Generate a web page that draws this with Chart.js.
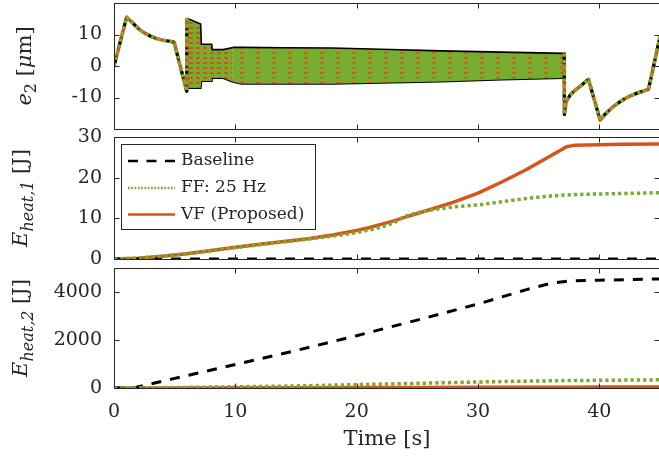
<!DOCTYPE html>
<html><head><meta charset="utf-8">
<script src="https://cdn.jsdelivr.net/npm/chart.js@4.4.1/dist/chart.umd.min.js"></script>
<style>
html,body{margin:0;padding:0;background:#fff;overflow:hidden;width:659px;height:456px;position:relative}
canvas{position:absolute;left:0;display:block}
</style></head><body>
<canvas id="c1" width="660" height="150" style="top:-9px"></canvas>
<canvas id="c2" width="660" height="146" style="top:125px"></canvas>
<canvas id="c3" width="660" height="200" style="top:256px"></canvas>
<script>
// ---- tick labels ----
const xTicks = [0, 10, 20, 30, 40];
const e2Ticks = [-10, 0, 10];
const eh1Ticks = [0, 10, 20, 30];
const eh2Ticks = [0, 2000, 4000];
const seriesNames = ['Baseline', 'FF: 25 Hz', 'VF (Proposed)'];

// ---- e2 [um] : trace shared by all three controllers outside the oscillating window ----
const e2Time  = [0, 1.04, 1.5, 2.0, 2.5, 3.0, 3.5, 4.0, 4.5, 4.95, 5.99, 6.0, 6.01,
                 37.1, 37.12, 37.25, 37.6, 38.0, 38.5, 39.1, 40.07, 40.5, 41.0, 41.5, 42.0, 42.5, 43.0, 43.5, 44.05, 45.0];
const e2Trace = [0, 15.5, 13.8, 11.9, 10.5, 9.5, 8.7, 8.2, 7.9, 7.6, -8.0, 15.2, null,
                 4.0, -15.4, -11.5, -9.2, -7.7, -6.2, -4.2, -17.2, -15.2, -13.4, -11.9, -10.6, -9.6, -8.8, -8.1, -7.4, 9.3];
// envelope of the high-frequency oscillation band (all three series)
const bandTime  = [6.0, 7.14, 7.2, 8.05, 8.1, 9.0, 9.8, 10.5, 14, 18, 22, 27, 32, 37.1];
const bandUpper = [15.2, 13.3, 6.9, 6.9, 5.2, 5.2, 5.9, 5.9, 5.8, 5.7, 5.3, 4.8, 4.4, 4.0];
const bandLower = [-7.0, -7.0, -4.8, -4.8, -3.8, -3.8, -5.0, -5.6, -5.6, -5.6, -5.3, -4.9, -4.3, -3.8];

// ---- E_heat,1 [J] ----
const t1 = [0, 2, 4, 6, 8, 10, 12, 14, 16, 18, 20, 21, 22, 23, 24, 25, 26, 28, 30, 32, 34, 36, 37.3, 38, 40, 42, 45];
const eh1Baseline = [0, 0, 0, 0, 0, 0, 0, 0, 0, 0, 0, 0, 0, 0, 0, 0, 0, 0, 0, 0, 0, 0, 0, 0, 0, 0, 0];
const eh1FF = [0, 0.2, 0.7, 1.3, 2.0, 2.8, 3.5, 4.2, 4.9, 5.6, 6.5, 7.1, 7.8, 8.8, 10.5, 11.4, 12.0, 12.8, 13.3, 14.1, 14.9, 15.5, 15.75, 15.85, 16.0, 16.1, 16.3];
const eh1VF = [0, 0.2, 0.7, 1.3, 2.1, 2.9, 3.6, 4.3, 5.0, 5.9, 7.0, 7.7, 8.5, 9.3, 10.3, 11.2, 12.1, 14.0, 16.2, 19.0, 22.0, 25.4, 27.6, 28.0, 28.1, 28.2, 28.3];

// ---- E_heat,2 [J] ----
const t2 = [0, 1.6, 5, 10, 15, 20, 25, 30, 34, 36, 37.5, 40, 45];
const eh2Baseline = [0, 0, 400, 980, 1560, 2180, 2830, 3500, 4100, 4360, 4460, 4490, 4545];
const eh2FF = [0, 3, 20, 50, 85, 140, 195, 250, 285, 300, 310, 320, 340];
const eh2VF = [0, 0, 5, 10, 15, 20, 25, 30, 33, 35, 36, 38, 40];

// ---- styling ----
const INK = '#262626';
const FONT = 'DejaVu Serif';
const GREEN = '#77AC30', ORANGE = '#D95319';
const styles = [
  {borderColor: '#000000', borderWidth: 3, borderDash: [10, 9], order: 1},
  {borderColor: GREEN, borderWidth: 3.5, borderDash: [3.3, 3], order: 0},
  {borderColor: ORANGE, borderWidth: 3.5, borderDash: [], order: 2}
];
function pts(xs, ys) { return xs.map((x, i) => ({x: x, y: ys[i]})); }
function lineSet(label, xs, ys, k) {
  return Object.assign({label: label, data: pts(xs, ys), pointRadius: 0, tension: 0,
    fill: false, spanGaps: false, borderCapStyle: 'butt', borderJoinStyle: 'round'}, styles[k]);
}
// texture of the overlapping green/orange oscillations
function texture(w, h, dashW, dashH) {
  const c = document.createElement('canvas'); c.width = w; c.height = h;
  const g = c.getContext('2d');
  g.fillStyle = GREEN; g.fillRect(0, 0, w, h);
  g.fillStyle = ORANGE; g.fillRect(0, Math.floor((h - dashH) / 2), dashW, dashH);
  return g.createPattern(c, 'repeat');
}

const boxPlugin = {
  id: 'boxTicks',
  afterDraw(chart) {
    const {ctx, chartArea: a, scales} = chart;
    const x = scales.x, y = scales.y;
    ctx.save();
    ctx.strokeStyle = INK; ctx.lineWidth = 1;
    const L = 5;
    const l = Math.round(a.left) + 0.5, r = Math.round(a.right) - 0.5;
    const t = Math.round(a.top) + 0.5, b = Math.round(a.bottom) + 0.5;
    ctx.beginPath();
    ctx.rect(l, t, r - l, b - t);
    x.ticks.forEach(tk => {
      const px = Math.round(x.getPixelForValue(tk.value)) + 0.5;
      ctx.moveTo(px, t); ctx.lineTo(px, t + L);
      ctx.moveTo(px, b); ctx.lineTo(px, b - L);
    });
    y.ticks.forEach(tk => {
      const py = Math.round(y.getPixelForValue(tk.value)) + 0.5;
      ctx.moveTo(l, py); ctx.lineTo(l + L, py);
      ctx.moveTo(r, py); ctx.lineTo(r - L, py);
    });
    ctx.stroke();
    // rotated y-axis title with sub-scripts
    const parts = chart.options.plugins.boxTicks.title;
    if (parts) {
      const cy = (a.top + a.bottom) / 2;
      ctx.translate(chart.options.plugins.boxTicks.titleX, cy);
      ctx.rotate(-Math.PI / 2);
      let total = 0;
      parts.forEach(p => { ctx.font = p.font; p.w = ctx.measureText(p.text).width; total += p.w; });
      let cx = -total / 2;
      ctx.fillStyle = INK; ctx.textBaseline = 'alphabetic'; ctx.textAlign = 'left';
      parts.forEach(p => { ctx.font = p.font; ctx.fillText(p.text, cx, p.dy || 0); cx += p.w; });
    }
    ctx.restore();
  }
};

const legendPlugin = {
  id: 'boxLegend',
  afterDatasetsDraw(chart, args, opts) {
    if (!opts.show) return;
    const {ctx, chartArea: a} = chart;
    const bx = Math.round(a.left) + 7, by = Math.round(a.top) + 7, bw = 194, bh = 85;
    ctx.save();
    ctx.fillStyle = '#fff'; ctx.fillRect(bx, by, bw, bh);
    ctx.strokeStyle = INK; ctx.lineWidth = 1; ctx.strokeRect(bx + 0.5, by + 0.5, bw, bh);
    const rowsY = [17, 44, 70.5];
    chart.data.datasets.slice(0, 3).forEach((ds, i) => {
      const yy = by + rowsY[i];
      ctx.beginPath();
      ctx.strokeStyle = ds.borderColor; ctx.lineWidth = 2.6;
      ctx.setLineDash(i === 0 ? [10, 8.5] : (i === 1 ? [1.7, 1.6] : []));
      ctx.moveTo(bx + 7, yy); ctx.lineTo(bx + 54, yy); ctx.stroke();
      ctx.setLineDash([]);
      ctx.fillStyle = INK; ctx.font = '17px ' + FONT; ctx.textBaseline = 'middle';
      ctx.fillText(ds.label, bx + 60, yy);
    });
    ctx.restore();
  }
};

function yScale(min, max, ticksArr) {
  return {
    type: 'linear', position: 'left', min: min, max: max,
    afterBuildTicks: s => { s.ticks = ticksArr.map(v => ({value: v})); },
    afterFit: s => { s.width = 114; s.paddingTop = 0; s.paddingBottom = 0; },
    grid: {display: false, drawTicks: false}, border: {display: false},
    ticks: {color: INK, padding: 12, font: {family: FONT, size: 19}, callback: v => String(v)}
  };
}
function xScale(show) {
  const s = {
    type: 'linear', min: 0, max: 45, display: show,
    afterBuildTicks: sc => { sc.ticks = xTicks.map(v => ({value: v})); },
    grid: {display: false, drawTicks: false}, border: {display: false},
    ticks: {color: INK, padding: 13, maxRotation: 0, font: {family: FONT, size: 19}, callback: v => String(v)}
  };
  if (show) {
    s.afterFit = sc => { sc.height = 68; sc.paddingLeft = 0; sc.paddingRight = 0; };
    s.title = {display: true, text: 'Time [s]', color: INK, font: {family: FONT, size: 21}, padding: {top: 0, bottom: 4}};
  }
  return s;
}
function baseOpts(yS, showX, padBottom, title, legend) {
  return {
    responsive: false, animation: false, devicePixelRatio: 1, events: [],
    layout: {padding: {top: 12, bottom: padBottom, left: 0, right: 0}},
    scales: {x: xScale(showX), y: yS},
    plugins: {legend: {display: false}, tooltip: {enabled: false},
      boxTicks: {title: title, titleX: title.titleX}, boxLegend: {show: legend}}
  };
}

const titleE2 = [
  {text: 'e', font: 'italic 21px ' + FONT},
  {text: '2', font: '16px ' + FONT, dy: 5},
  {text: ' [', font: '21px ' + FONT},
  {text: 'μ', font: 'italic 21px ' + FONT},
  {text: 'm]', font: '21px ' + FONT}
];
titleE2.titleX = 31;
const titleE1 = [
  {text: 'E', font: 'italic 21px ' + FONT},
  {text: 'heat,1', font: 'italic 16px ' + FONT, dy: 6},
  {text: ' [J]', font: '21px ' + FONT}
];
titleE1.titleX = 27;
const titleEh2 = [
  {text: 'E', font: 'italic 21px ' + FONT},
  {text: 'heat,2', font: 'italic 16px ' + FONT, dy: 6},
  {text: ' [J]', font: '21px ' + FONT}
];
titleEh2.titleX = 27;

// Chart 1: e2 — oscillation band split in an early (orange-rich) and a later part
const early = bandTime.map((t, i) => i).filter(i => bandTime[i] <= 9.8);
const late = bandTime.map((t, i) => i).filter(i => bandTime[i] >= 9.8);
function bandPair(idx, pattern, ord) {
  const xs = idx.map(i => bandTime[i]);
  return [
    {label: 'band+', data: pts(xs, idx.map(i => bandUpper[i])), pointRadius: 0, tension: 0,
      borderColor: '#000', borderWidth: 1.6, fill: '+1', backgroundColor: pattern, order: ord},
    {label: 'band-', data: pts(xs, idx.map(i => bandLower[i])), pointRadius: 0, tension: 0,
      borderColor: '#000', borderWidth: 2, fill: false, order: ord + 1}
  ];
}
const bandsA = bandPair(early, texture(7, 5, 4, 2), 3);
const bandsB = bandPair(late, texture(16, 5, 4, 1.5), 5);
new Chart(document.getElementById('c1'), {
  type: 'line',
  data: {datasets: [
    lineSet(seriesNames[0], e2Time, e2Trace, 0),
    lineSet(seriesNames[1], e2Time, e2Trace, 1),
    lineSet(seriesNames[2], e2Time, e2Trace, 2),
    bandsA[0], bandsA[1], bandsB[0], bandsB[1]]},
  options: baseOpts(yScale(-20, 20, e2Ticks), false, 12, titleE2, false),
  plugins: [boxPlugin, legendPlugin]
});
// Chart 2: E_heat,1
new Chart(document.getElementById('c2'), {
  type: 'line',
  data: {datasets: [
    lineSet(seriesNames[0], t1, eh1Baseline, 0),
    lineSet(seriesNames[1], t1, eh1FF, 1),
    lineSet(seriesNames[2], t1, eh1VF, 2)]},
  options: baseOpts(yScale(0, 30, eh1Ticks), false, 12, titleE1, true),
  plugins: [boxPlugin, legendPlugin]
});
// Chart 3: E_heat,2
new Chart(document.getElementById('c3'), {
  type: 'line',
  data: {datasets: [
    lineSet(seriesNames[0], t2, eh2Baseline, 0),
    lineSet(seriesNames[1], t2, eh2FF, 1),
    lineSet(seriesNames[2], t2, eh2VF, 2)]},
  options: baseOpts(yScale(0, 5000, eh2Ticks), true, 0, titleEh2, false),
  plugins: [boxPlugin, legendPlugin]
});
</script>
</body></html>
